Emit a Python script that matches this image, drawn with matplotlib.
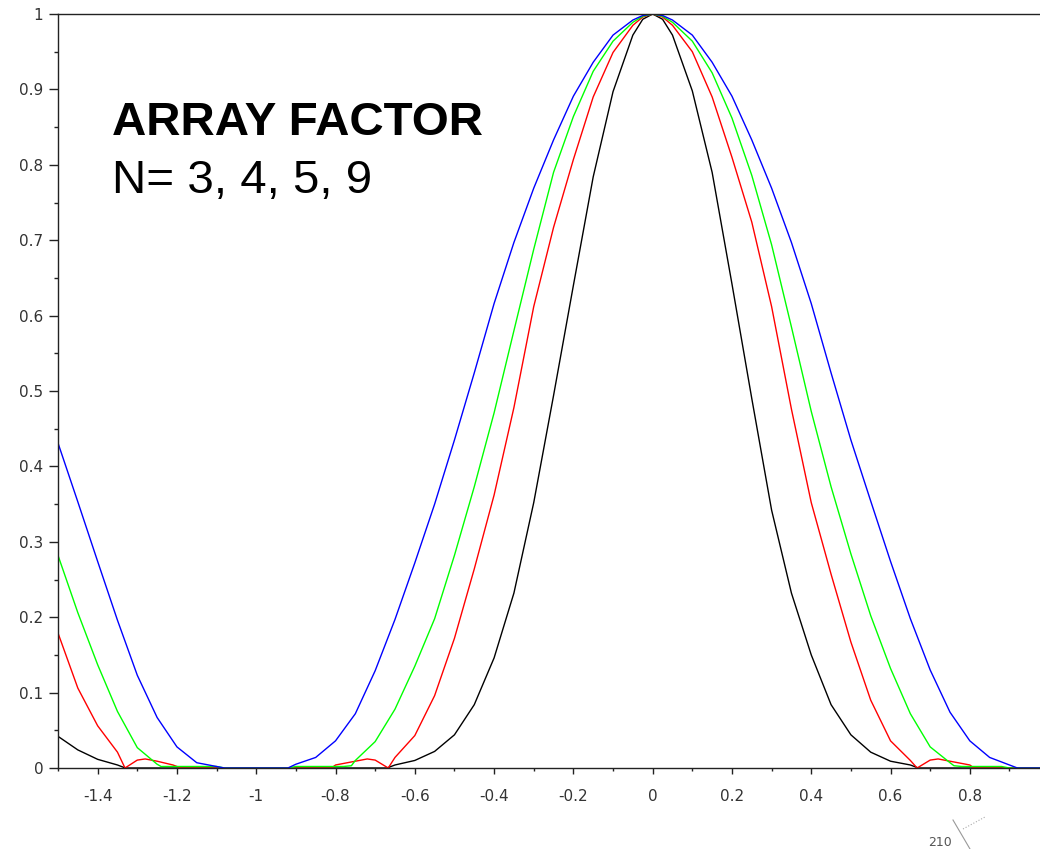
import matplotlib
matplotlib.use("Agg")
import matplotlib.pyplot as plt
from matplotlib.lines import Line2D

# values
x_n3 = [-1.5, -1.45, -1.4, -1.35, -1.3, -1.25, -1.2, -1.15, -1.1, -1.08,
        -0.92, -0.9, -0.85, -0.8, -0.75, -0.7, -0.65, -0.6, -0.55, -0.5,
        -0.45, -0.4, -0.35, -0.3, -0.25, -0.2, -0.15, -0.1, -0.05, -0.025, 0,
        0.025, 0.05, 0.1, 0.15, 0.2, 0.25, 0.3, 0.35, 0.4, 0.45, 0.5, 0.55,
        0.6, 0.65, 0.7, 0.75, 0.8, 0.85, 0.9, 0.92, 0.977]
y_n3 = [0.431, 0.353, 0.274, 0.196, 0.123, 0.067, 0.028, 0.007, 0.002, 0.0,
        0.0, 0.005, 0.014, 0.036, 0.072, 0.129, 0.197, 0.272, 0.35, 0.435,
        0.524, 0.616, 0.697, 0.769, 0.833, 0.891, 0.936, 0.972, 0.992, 0.998, 1.0,
        0.998, 0.992, 0.972, 0.936, 0.891, 0.833, 0.769, 0.697, 0.616, 0.524, 0.435, 0.354,
        0.274, 0.198, 0.13, 0.074, 0.036, 0.014, 0.004, 0.0, 0.0]

x_n4 = [-1.5, -1.45, -1.4, -1.35, -1.3, -1.25, -1.24, -1.1, -1.08,
        -0.92, -0.9, -0.78, -0.76, -0.75, -0.7, -0.65, -0.6, -0.55, -0.5,
        -0.45, -0.4, -0.35, -0.3, -0.25, -0.2, -0.15, -0.1, -0.05, -0.025, 0,
        0.025, 0.05, 0.1, 0.15, 0.2, 0.25, 0.3, 0.35, 0.4, 0.45, 0.5, 0.55,
        0.6, 0.65, 0.7, 0.75, 0.76, 0.78, 0.88, 0.9, 0.977]
y_n4 = [0.282, 0.206, 0.137, 0.075, 0.027, 0.005, 0.002, 0.002, 0.0,
        0.0, 0.002, 0.002, 0.003, 0.01, 0.035, 0.078, 0.135, 0.198, 0.282,
        0.373, 0.471, 0.58, 0.688, 0.79, 0.864, 0.924, 0.964, 0.989, 0.997, 1.0,
        0.997, 0.989, 0.964, 0.922, 0.862, 0.786, 0.694, 0.585, 0.473, 0.373, 0.284, 0.202,
        0.132, 0.072, 0.028, 0.007, 0.003, 0.002, 0.002, 0.0, 0.0]

x_n5 = [-1.5, -1.45, -1.4, -1.35, -1.331, -1.3, -1.28, -1.25, -1.21, -1.19,
        -0.81, -0.8, -0.75, -0.72, -0.7, -0.667, -0.65, -0.6, -0.55, -0.5,
        -0.45, -0.4, -0.35, -0.3, -0.25, -0.2, -0.15, -0.1, -0.05, -0.025, 0,
        0.025, 0.05, 0.1, 0.15, 0.2, 0.25, 0.3, 0.35, 0.4, 0.45, 0.5, 0.55,
        0.6, 0.65, 0.667, 0.7, 0.72, 0.75, 0.8, 0.81, 0.977]
y_n5 = [0.179, 0.106, 0.056, 0.021, 0.0, 0.0105, 0.012, 0.009, 0.004, 0.0,
        0.0, 0.004, 0.009, 0.012, 0.0105, 0.0, 0.014, 0.043, 0.096, 0.172,
        0.264, 0.362, 0.478, 0.612, 0.717, 0.807, 0.89, 0.949, 0.985, 0.996, 1.0,
        0.996, 0.985, 0.95, 0.89, 0.81, 0.724, 0.612, 0.476, 0.352, 0.257, 0.167, 0.09,
        0.036, 0.01, 0.0, 0.0105, 0.012, 0.009, 0.004, 0.0, 0.0]

x_n9 = [-1.5, -1.45, -1.4, -1.35, -1.33, -0.67, -0.65, -0.6, -0.55, -0.5,
        -0.45, -0.4, -0.35, -0.3, -0.25, -0.2, -0.15, -0.1, -0.05, -0.025, 0,
        0.025, 0.05, 0.1, 0.15, 0.2, 0.25, 0.3, 0.35, 0.4, 0.45, 0.5, 0.55,
        0.6, 0.65, 0.67, 0.977]
y_n9 = [0.042, 0.024, 0.0115, 0.004, 0.0, 0.0, 0.004, 0.01, 0.022, 0.044,
        0.084, 0.146, 0.232, 0.352, 0.494, 0.64, 0.784, 0.897, 0.972, 0.993, 1.0,
        0.993, 0.972, 0.898, 0.79, 0.642, 0.49, 0.342, 0.232, 0.15, 0.084, 0.044, 0.021,
        0.009, 0.004, 0.0, 0.0]

x_ticks = [-1.4, -1.2, -1.0, -0.8, -0.6, -0.4, -0.2, 0.0, 0.2, 0.4, 0.6, 0.8]
x_labels = ["-1.4", "-1.2", "-1", "-0.8", "-0.6", "-0.4", "-0.2", "0", "0.2", "0.4", "0.6", "0.8"]
y_ticks = [0, 0.1, 0.2, 0.3, 0.4, 0.5, 0.6, 0.7, 0.8, 0.9, 1.0]
y_labels = ["0", "0.1", "0.2", "0.3", "0.4", "0.5", "0.6", "0.7", "0.8", "0.9", "1"]

W, H = 1040, 849
fig = plt.figure(figsize=(W / 100, H / 100), dpi=100)
ax = fig.add_axes([58 / W, 1 - 768 / H, 1 - 58 / W, (768 - 14) / H])

ax.plot(x_n9, y_n9, color="black", lw=1.0)
ax.plot(x_n5, y_n5, color="#ff0000", lw=1.0)
ax.plot(x_n4, y_n4, color="#00ff00", lw=1.0)
ax.plot(x_n3, y_n3, color="#0000ff", lw=1.0)

ax.set_xlim(-1.5, 0.977)
ax.set_ylim(0, 1)
ax.spines["right"].set_visible(False)
for s in ("left", "bottom", "top"):
    ax.spines[s].set_color("#222222")
    ax.spines[s].set_linewidth(1.0)

ax.set_xticks(x_ticks)
ax.set_xticklabels(x_labels)
ax.set_xticks([-1.5, -1.3, -1.1, -0.9, -0.7, -0.5, -0.3, -0.1, 0.1, 0.3, 0.5, 0.7, 0.9], minor=True)
ax.set_yticks(y_ticks)
ax.set_yticklabels(y_labels)
ax.set_yticks([0.05, 0.15, 0.25, 0.35, 0.45, 0.55, 0.65, 0.75, 0.85, 0.95], minor=True)
ax.tick_params(axis="x", which="major", length=4, width=1, pad=11, labelsize=11,
               labelcolor="#333333", color="#222222")
ax.tick_params(axis="x", which="minor", length=2.5, width=1, color="#222222")
ax.tick_params(axis="y", which="major", length=6.5, width=1, pad=4, labelsize=11,
               labelcolor="#333333", color="#222222")
ax.tick_params(axis="y", which="minor", length=3, width=1, color="#222222")

fig.text(112 / W, 1 - 135 / H, "ARRAY FACTOR", fontsize=34.2, fontweight="bold",
         family="Liberation Sans", va="baseline", ha="left")
fig.text(112 / W, 1 - 193 / H, "N= 3, 4, 5, 9", fontsize=34.2,
         family="Liberation Sans", va="baseline", ha="left")

# leftover polar-grid label in the corner
fig.text(928 / W, 1 - 846 / H, "210", fontsize=9, color="#555555", va="baseline")
fig.add_artist(Line2D([953 / W, 970 / W], [1 - 820 / H, 1 - 849 / H],
                      transform=fig.transFigure, color="#999999", lw=0.8))
fig.add_artist(Line2D([963 / W, 985 / W], [1 - 829 / H, 1 - 817 / H],
                      transform=fig.transFigure, color="#aaaaaa", lw=0.8, ls=":"))

fig.savefig("out.png", dpi=100)
